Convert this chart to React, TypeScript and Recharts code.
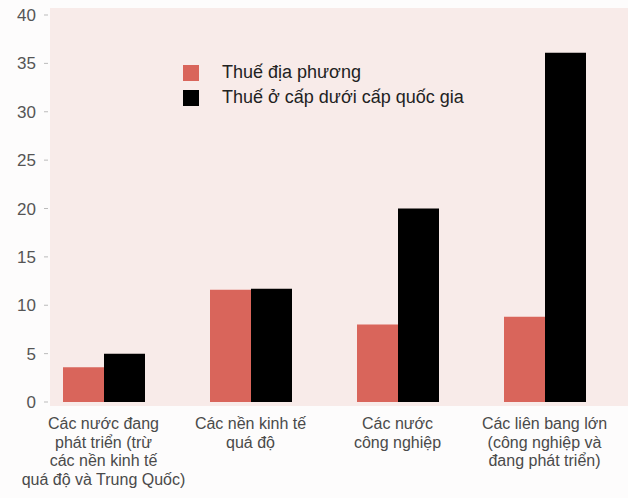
import { BarChart, Bar, XAxis, YAxis, Legend } from "recharts";

const categories = ["dev", "transition", "industrial", "federations"];
const categoryLines = [
  ["Các nước đang", "phát triển (trừ", "các nền kinh tế", "quá độ và Trung Quốc)"],
  ["Các nền kinh tế", "quá độ"],
  ["Các nước", "công nghiệp"],
  ["Các liên bang lớn", "(công nghiệp và", "đang phát triển)"],
];
const localTax = [3.6, 11.6, 8.0, 8.8];
const subnationalTax = [5.0, 11.7, 20.0, 36.1];
const yTicks = [0, 5, 10, 15, 20, 25, 30, 35, 40];

const seriesNames = ["Thuế địa phương", "Thuế ở cấp dưới cấp quốc gia"];
const seriesColors = ["#d9655b", "#000000"];

const data = categories.map((c, i) => ({
  name: c,
  local: localTax[i],
  sub: subnationalTax[i],
}));

const FONT = '"Liberation Sans", Arial, Helvetica, sans-serif';

const CategoryTick = ({ x, y, index }: any) => {
  const lines = categoryLines[index] || [];
  return (
    <text x={x} y={y} textAnchor="middle" fill="#4a4a4a" fontSize={16} fontFamily={FONT}>
      {lines.map((l, i) => (
        <tspan key={i} x={x} dy={i === 0 ? 19 : 18.7}>
          {l}
        </tspan>
      ))}
    </text>
  );
};

// the value axis sits to the left of the first band, so its labels are shifted right
const ValueTick = ({ x, y, payload }: any) => (
  <g>
    <line x1={x + 14} x2={x + 18} y1={y} y2={y} stroke="#bbb" />
    <text
      x={x + 6}
      y={y}
      dy={6}
      textAnchor="end"
      fill="#555"
      fontSize={17}
      fontFamily={FONT}
    >
      {payload.value}
    </text>
  </g>
);

const LegendBox = () => (
  <div style={{ fontFamily: FONT, fontSize: 18, color: "#222" }}>
    {seriesNames.map((n, i) => (
      <div key={n} style={{ display: "flex", alignItems: "center", height: 25 }}>
        <span
          style={{
            display: "inline-block",
            width: 16,
            height: 16,
            background: seriesColors[i],
            marginRight: 23,
          }}
        />
        {n}
      </div>
    ))}
  </div>
);

export default function App() {
  return (
    <div
      style={{
        position: "fixed",
        left: 0,
        top: 0,
        width: 628,
        height: 498,
        background: "#fdfcfc",
      }}
    >
      <div
        style={{
          position: "absolute",
          left: 50,
          top: 8,
          width: 578,
          height: 398,
          background: "#f8ebe9",
        }}
      />
      <div style={{ position: "absolute", left: 0, top: 0 }}>
        <BarChart
          width={628}
          height={498}
          data={data}
          margin={{ top: 15, right: 10, left: 0, bottom: 6 }}
          barGap={0}
          barSize={41}
        >
          <XAxis
            dataKey="name"
            axisLine={false}
            tickLine={false}
            interval={0}
            height={90}
            tick={<CategoryTick />}
          />
          <YAxis
            width={30}
            domain={[0, 40]}
            ticks={yTicks}
            axisLine={false}
            tickLine={false}
            tickSize={0}
            tickMargin={0}
            tick={<ValueTick />}
          />
          <Legend
            verticalAlign="middle"
            align="center"
            layout="vertical"
            content={<LegendBox />}
            wrapperStyle={{ left: 183, top: 60, width: 340 }}
          />
          <Bar dataKey="local" name={seriesNames[0]} fill={seriesColors[0]} isAnimationActive={false} />
          <Bar dataKey="sub" name={seriesNames[1]} fill={seriesColors[1]} isAnimationActive={false} />
        </BarChart>
      </div>
    </div>
  );
}
